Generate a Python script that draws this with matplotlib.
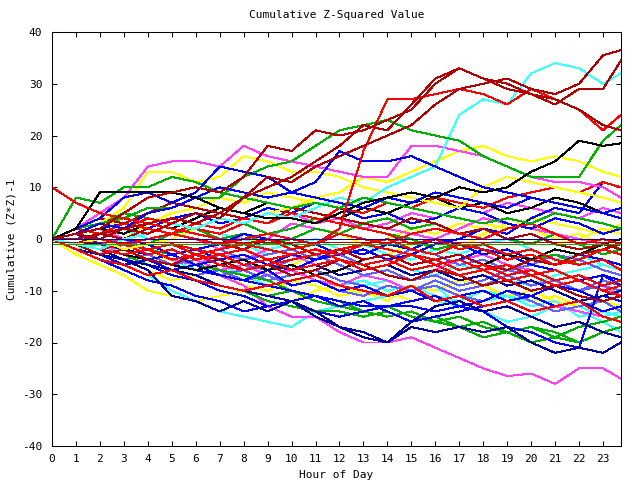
import matplotlib
matplotlib.use('Agg')
import matplotlib.pyplot as plt

plt.rcParams['font.family'] = ['DejaVu Sans Mono']
plt.rcParams['axes.unicode_minus'] = False

# --- data: cumulative (z*z)-1 ---
hours = [0, 1, 2, 3, 4, 5, 6, 7, 8, 9, 10, 11, 12, 13, 14, 15, 16, 17, 18, 19, 20, 21, 22, 23, 23.75]

x_ticks = list(range(0, 24))
y_ticks = [-40, -30, -20, -10, 0, 10, 20, 30, 40]

# upper lines
darkred_a = [0, 1, 0, 2, 1, 3, 5, 4, 8, 12, 11, 14, 16, 18, 20, 22, 26, 29, 30, 31, 29, 28, 30, 35.5, 36.5]
darkred_b = [0, 1, 2, 5, 8, 9, 10, 9, 12, 18, 17, 21, 20, 21, 23, 25, 30, 33, 31, 30, 28, 26, 29, 29, 34.5]
darkred_c = [0, 0, 1, 2, 3, 4, 3, 5, 8, 10, 12, 15, 18, 22, 21, 26, 31, 33, 31, 29, 28, 27, 25, 22, 21]
red_jump = [0, 1, 0, -1, 0, 1, 0, -1, 0, 1, 0, -1, 2, 17, 27, 27, 28, 29, 28, 26, 29, 27, 25, 21, 24]
cyan_high = [0, -1, -2, 0, 1, 3, 2, 4, 3, 5, 4, 6, 8, 7, 10, 12, 14, 24, 27, 26, 32, 34, 33, 30, 32]
green_high = [0, 1, 3, 4, 6, 6, 8, 8, 12, 14, 15, 18, 21, 22, 23, 21, 20, 19, 16, 14, 12, 12, 12, 19, 22]
black_high = [0, 2, 9, 9, 9, 9, 8, 6, 5, 4, 4, 3, 5, 7, 8, 9, 8, 10, 9, 10, 13, 15, 19, 18, 18.5]
magenta_high = [0, 2, 5, 8, 14, 15, 15, 14, 18, 16, 15, 14, 13, 12, 12, 18, 18, 17, 16, 14, 12, 11, 11, 10, 8]
yellow_high = [0, 1, 3, 6, 13, 13, 11, 12, 16, 15, 13, 13, 12, 10, 9, 8, 7, 6, 10, 12, 11, 10, 9, 8, 7]
yellow_late = [0, -1, 0, -2, -1, 0, 2, 4, 3, 5, 6, 8, 9, 12, 11, 13, 15, 17, 18, 16, 15, 16, 15, 13, 12]
green_early = [0, 8, 7, 10, 10, 12, 11, 9, 8, 7, 6, 7, 6, 8, 7, 6, 5, 4, 3, 4, 3, 5, 4, 3, 2]
red_early = [10, 7, 5, 4, 3, 2, 1, 0, -1, -2, -3, -2, -4, -5, -4, -6, -5, -7, -6, -8, -7, -9, -8, -10, -11]
blue_high1 = [0, 2, 4, 8, 9, 7, 9, 14, 13, 12, 9, 8, 7, 6, 8, 7, 9, 8, 7, 6, 8, 7, 6, 5, 4]
blue_high2 = [0, 1, 3, 2, 5, 6, 8, 10, 9, 8, 9, 11, 17, 15, 15, 16, 14, 12, 10, 9, 8, 7, 6, 5, 6]

# lower lines
magenta_low = [0, -1, -2, -3, -4, -5, -6, -7, -9, -13, -15, -15, -18, -20, -20, -19, -21, -23, -25, -26.5, -26, -28, -25, -25, -27]
cyan_low = [0, -1, -3, -5, -7, -10, -12, -14, -15, -16, -17, -14, -13, -12, -11, -10, -9, -13, -12, -11, -13, -12, -15, -14, -15]
navy_low = [0, -2, -3, -4, -6, -11, -12, -14, -12, -14, -12, -14, -17, -18, -20, -17, -18, -17, -18, -17, -20, -22, -21, -22, -20]
blue_low = [0, -1, -2, -3, -4, -5, -6, -7, -8, -9, -10, -11, -12, -13, -13, -13, -14, -13, -14, -17, -18, -20, -21, -7, -8]
yellow_low = [0, -3, -5, -7, -10, -11, -12, -11, -10, -11, -12, -10, -9, -11, -10, -12, -11, -13, -12, -10, -12, -11, -13, -12, -13]
green_low = [0, -1, -2, -3, -5, -6, -7, -9, -10, -12, -13, -14, -14, -15, -14, -16, -15, -17, -16, -18, -17, -18, -20, -18, -17]
navy_low2 = [0, -1, -2, -4, -5, -6, -7, -9, -10, -11, -12, -15, -17, -19, -20, -16, -13, -12, -14, -13, -15, -17, -16, -18, -19]

# middle bundle
red_m1 = [0, -1, -2, -1, -3, -2, -4, -3, -5, -4, -6, -5, -4, -6, -5, -3, -4, -6, -5, -7, -6, -8, -7, -9, -8]
blue_m1 = [0, -2, -3, -5, -4, -6, -5, -7, -8, -6, -9, -8, -10, -9, -11, -10, -12, -11, -10, -12, -11, -13, -12, -14, -13]
lblue_m1 = [0, 1, -1, 0, -2, -1, -3, -2, -4, -3, -2, -4, -3, -5, -4, -2, -3, -5, -4, -6, -5, -3, -4, -6, -7]
yellow_m1 = [0, -1, -3, -4, -6, -8, -7, -6, -9, -10, -8, -9, -11, -10, -12, -9, -10, -8, -9, -11, -10, -12, -13, -12, -14]
magenta_m1 = [0, -1, 0, -2, -3, -2, -4, -6, -5, -7, -6, -8, -9, -7, -8, -10, -9, -11, -10, -12, -11, -13, -14, -15, -16]
cyan_m1 = [0, -2, -1, -3, -2, -4, -6, -5, -7, -9, -8, -7, -9, -8, -10, -9, -11, -12, -10, -11, -12, -14, -13, -15, -14]
green_m1 = [0, -1, -2, -4, -5, -7, -8, -9, -10, -11, -10, -12, -13, -14, -15, -14, -16, -17, -19, -18, -17, -19, -20, -18, -17]
green_m2 = [0, 1, 0, -1, -2, -3, -5, -6, -7, -8, -10, -11, -12, -14, -13, -15, -16, -15, -17, -18, -20, -19, -17, -16, -15]
darkred_m1 = [0, -1, 1, 0, 2, 1, 0, -1, -2, 0, -1, -3, -2, -4, -3, -5, -4, -3, -5, -6, -4, -5, -3, -2, -1]
black_m1 = [0, -1, -2, -3, -4, -5, -6, -5, -4, -6, -5, -7, -6, -4, -3, -5, -4, -6, -5, -3, -4, -2, -3, -1, 0]
red_m2 = [0, -2, -4, -5, -7, -6, -8, -9, -10, -9, -8, -7, -9, -10, -11, -9, -12, -11, -13, -12, -14, -13, -12, -15, -16]
blue_m2 = [0, -1, -3, -4, -5, -7, -8, -10, -11, -13, -12, -11, -13, -12, -14, -16, -15, -14, -13, -12, -11, -13, -12, -11, -12]
lblue_m2 = [0, -1, -2, -3, -5, -6, -7, -6, -8, -7, -9, -8, -10, -11, -9, -10, -8, -10, -9, -7, -9, -8, -10, -9, -10]
yellow_m2 = [0, 2, 1, 0, 3, 2, 1, 0, -1, 1, 0, 2, 1, -1, 0, 2, 1, 3, 2, 0, 1, -1, 0, 2, 1]
magenta_m2 = [0, 1, 2, 0, -1, 1, 0, -2, 1, 0, 3, 2, 1, 3, 2, 1, 0, 2, 4, 3, 2, 1, 0, -1, -2]
cyan_m2 = [0, -1, 1, 2, 0, -1, -3, -2, -1, -3, -2, -4, -3, -5, -4, -6, -7, -5, -6, -8, -9, -7, -6, -5, -6]
red_m3 = [0, 1, 3, 2, 4, 3, 2, 1, 3, 5, 4, 3, 6, 5, 7, 6, 8, 7, 6, 8, 9, 10, 9, 11, 10]
blue_m3 = [0, 1, 2, 3, 2, 4, 5, 3, 4, 6, 5, 7, 6, 4, 5, 3, 4, 6, 5, 3, 2, 4, 3, 1, 2]
green_m3 = [0, 2, 3, 5, 4, 3, 2, 4, 3, 1, 2, 4, 3, 2, 1, 0, -2, -1, -3, -2, -4, -3, -5, -4, -5]
darkred_m2 = [0, 2, 4, 3, 5, 7, 6, 5, 4, 3, 6, 5, 4, 3, 2, 4, 3, 1, 2, 0, 1, -1, -2, -1, -2]
lblue_m3 = [0, -1, -2, -4, -3, -5, -4, -3, -5, -6, -4, -3, -5, -7, -6, -8, -7, -9, -8, -6, -7, -9, -10, -8, -9]
red_m4 = [0, -1, -2, -3, -2, -4, -3, -5, -6, -5, -4, -3, -2, -1, 0, -2, -3, -1, -2, -4, -3, -5, -4, -2, -3]
blue_m4 = [0, -2, -4, -6, -8, -9, -11, -12, -14, -13, -12, -14, -15, -14, -13, -12, -11, -13, -12, -10, -11, -9, -10, -12, -11]
navy_m1 = [0, -1, -1, -2, -3, -2, -4, -3, -5, -4, -6, -5, -7, -6, -5, -7, -6, -8, -7, -9, -8, -10, -12, -11, -10]
cyan_m3 = [0, 1, 0, 2, 1, 3, 2, 1, 0, -2, -1, 0, -2, -1, -3, -4, -2, -3, -1, 0, -2, -4, -3, -5, -6]
yellow_m3 = [0, -1, -2, -1, -3, -4, -3, -5, -4, -6, -5, -3, -2, -4, -3, -1, 0, -2, 1, 3, 2, 0, 1, -1, -2]
magenta_m3 = [0, -2, -3, -1, -2, -4, -5, -3, -4, -2, -3, -5, -4, -6, -5, -7, -6, -4, -3, -5, -6, -8, -10, -9, -11]
red_m5 = [0, 1, 0, -1, -2, -1, -3, -2, -1, 0, -2, -1, 1, 0, -1, 1, 2, 1, 0, 2, 3, 1, -1, 0, -1]
blue_m5 = [0, -1, -3, -2, -4, -3, -5, -4, -3, -5, -6, -4, -3, -2, -4, -3, -1, 0, 2, 1, 4, 6, 5, 11, 10]
red_m6 = [0, -1, 0, -1, -2, -1, -2, -3, -2, -4, -3, -2, -3, -1, -2, -3, -5, -4, -6, -5, -7, -6, -8, -10, -9]
blue_m6 = [0, 1, -1, -2, -1, -3, -2, -4, -3, -5, -3, -4, -2, -3, -1, -2, 0, -1, -3, -2, -4, -5, -3, -4, -5]
lblue_m4 = [0, -2, -3, -2, -4, -3, -5, -7, -6, -8, -7, -6, -8, -9, -11, -10, -9, -11, -12, -10, -12, -14, -13, -12, -14]
magenta_m4 = [0, 2, 1, 3, 2, 4, 3, 5, 4, 6, 5, 3, 4, 2, 3, 5, 4, 6, 5, 7, 6, 5, 4, 6, 5]
cyan_m4 = [0, -1, -3, -4, -3, -5, -4, -6, -8, -7, -6, -8, -10, -9, -8, -10, -12, -13, -14, -16, -15, -13, -14, -16, -18]
yellow_m4 = [0, 1, 2, 4, 3, 5, 6, 8, 7, 9, 8, 7, 6, 5, 7, 6, 5, 4, 3, 2, 4, 3, 2, 1, 3]
darkred_m3 = [0, -1, -3, -2, -4, -5, -3, -4, -6, -5, -7, -6, -4, -5, -7, -8, -6, -7, -9, -8, -10, -9, -11, -12, -11]
black_m2 = [0, 1, 2, 1, 3, 2, 4, 6, 5, 7, 6, 5, 4, 6, 5, 7, 8, 6, 7, 5, 6, 8, 7, 5, 6]
green_m4 = [0, -1, 1, 0, -1, 1, 2, 0, 1, -1, 0, 2, 1, 3, 4, 2, 3, 1, 2, 0, -1, 1, -1, -3, -2]
red_m7 = [0, 2, 1, 3, 2, 1, 3, 2, 4, 3, 5, 4, 3, 2, 1, -1, 0, -2, -1, -3, -2, -4, -5, -4, -6]
blue_m7 = [0, -1, -2, 0, -1, -3, -2, -1, 1, 0, -2, -1, -3, -2, -4, -3, -5, -4, -2, -3, -5, -6, -8, -7, -9]

# the three flat runs along zero
navy_flat = [0, 0, 0, 0, 0, 0, 0, 0, 0, 0, 0, 0, 0, 0, 0, 0, 0, 0, 0, 0, 0, 0, 0, 0, 0]
darkred_flat = [-0.5, -0.5, -0.5, -0.5, -0.5, -0.5, -0.5, -0.5, -0.5, -0.5, -0.5, -0.5, -0.5,
                -0.5, -0.5, -0.5, -0.5, -0.5, -0.5, -0.5, -0.5, -0.5, -0.5, -0.5, -0.5]
green_flat = [-0.9, -0.9, -0.9, -0.9, -0.9, -0.9, -0.9, -0.9, -0.9, -0.9, -0.9, -0.9, -0.9,
              -0.9, -0.9, -0.9, -0.9, -0.9, -0.9, -0.9, -0.9, -0.9, -0.9, -0.9, -0.9]

RED, DRED, GREEN, BLUE, LBLUE, NAVY = '#ff0000', '#b00000', '#00b000', '#0000ff', '#6060ff', '#0000a0'
MAG, CYAN, YEL, BLK = '#ff40ff', '#40ffff', '#ffff00', '#000000'

series = [
    (yellow_m2, YEL), (yellow_m4, YEL), (yellow_m1, YEL), (yellow_m3, YEL), (yellow_low, YEL),
    (cyan_m1, CYAN), (cyan_m2, CYAN), (cyan_m3, CYAN), (cyan_m4, CYAN), (cyan_low, CYAN),
    (magenta_m1, MAG), (magenta_m2, MAG), (magenta_m3, MAG), (magenta_m4, MAG), (magenta_low, MAG),
    (lblue_m1, LBLUE), (lblue_m2, LBLUE), (lblue_m3, LBLUE), (lblue_m4, LBLUE),
    (green_m1, GREEN), (green_m2, GREEN), (green_m3, GREEN), (green_m4, GREEN), (green_low, GREEN),
    (blue_m1, BLUE), (blue_m2, BLUE), (blue_m3, BLUE), (blue_m4, BLUE), (blue_m5, BLUE),
    (blue_m6, BLUE), (blue_m7, BLUE), (blue_low, BLUE),
    (navy_m1, NAVY), (navy_low, NAVY), (navy_low2, NAVY),
    (black_m1, BLK), (black_m2, BLK),
    (darkred_m1, DRED), (darkred_m2, DRED), (darkred_m3, DRED),
    (red_m1, RED), (red_m2, RED), (red_m3, RED), (red_m4, RED), (red_m5, RED), (red_m6, RED), (red_m7, RED),
    (yellow_high, YEL), (yellow_late, YEL), (magenta_high, MAG), (cyan_high, CYAN),
    (green_early, GREEN), (green_high, GREEN), (blue_high1, BLUE), (blue_high2, BLUE),
    (black_high, BLK), (red_early, RED), (red_jump, RED),
    (darkred_a, DRED), (darkred_b, DRED), (darkred_c, DRED),
    (green_flat, GREEN), (darkred_flat, DRED), (navy_flat, NAVY),
]

fig = plt.figure(figsize=(6.4, 4.8), dpi=100)
ax = fig.add_axes([52 / 640, 34 / 480, 569 / 640, 414 / 480])

# gnuplot-style hard 1px lines
for vals, col in series:
    ax.plot(hours, vals, color=col, linewidth=0.7, antialiased=False)

ax.set_xlim(0, 23.75)
ax.set_ylim(-40, 40)
ax.set_xticks(x_ticks)
ax.set_yticks(y_ticks)
ax.tick_params(direction='in', length=3.6, width=0.75, labelsize=8,
               top=True, right=True, colors='black')
ax.tick_params(axis='x', pad=6)
ax.tick_params(axis='y', pad=7)
for sp in ax.spines.values():
    sp.set_linewidth(0.75)

ax.set_title('Cumulative Z-Squared Value', fontsize=8, pad=10)
ax.set_xlabel('Hour of Day', fontsize=8, labelpad=4)
ax.set_ylabel('Cumulative (Z*Z)-1', fontsize=8, labelpad=4)

fig.savefig('out.png', dpi=100)
